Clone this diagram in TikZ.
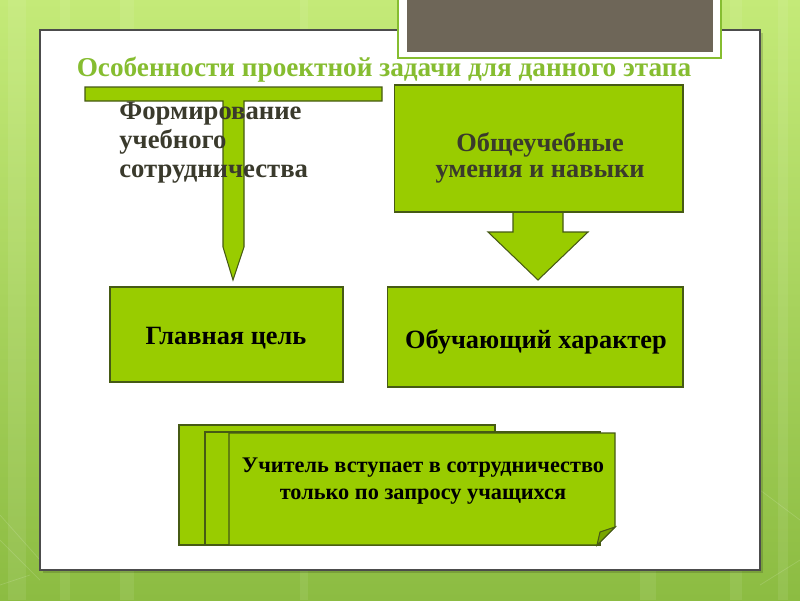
\documentclass[tikz,border=0pt]{standalone}
\usepackage{fontspec}
\setmainfont{Liberation Serif}
\definecolor{bgtop}{RGB}{196,234,120}
\definecolor{bgbot}{RGB}{140,188,66}
\definecolor{leaf}{RGB}{153,204,0}
\definecolor{leafdark}{RGB}{120,165,0}
\definecolor{edge}{RGB}{70,90,20}
\definecolor{headgreen}{RGB}{134,189,48}
\definecolor{slate}{RGB}{110,102,88}
\definecolor{inkgray}{RGB}{58,58,44}
\begin{document}
\begin{tikzpicture}[x=0.02cm, y=-0.02cm,
    block/.style={fill=leaf, draw=edge, line width=0.6pt},
    lbl/.style={font=\bfseries\fontsize{15}{17}\selectfont, text=black, align=center}]
    \useasboundingbox (0,0) rectangle (800,600);

    % 1. Nền xanh và khung trắng
    \shade[top color=bgtop, bottom color=bgbot] (0,0) rectangle (800,600);
    \foreach \xa/\w in {8/18, 60/10, 120/14, 300/8, 640/16, 730/12, 778/10}
        \fill[white, opacity=0.08] (\xa,0) rectangle (\xa+\w,600);
    \draw[white, opacity=0.15] (0,515) -- (40,560) (0,540) -- (40,580) (760,490) -- (800,520)
        (760,585) -- (800,560) (30,575) -- (0,585);
    \fill[black, opacity=0.15] (43,33) rectangle (763,573);
    \draw[fill=white, draw=gray!60!black, line width=0.6pt] (40,30) rectangle (760,570);

    % 2. Ô tối phía trên
    \draw[fill=white, draw=headgreen, line width=0.8pt] (398,-2) rectangle (721,58);
    \fill[slate] (407,-2) rectangle (713,52);

    % 3. Tiêu đề
    \node[font=\bfseries\fontsize{15.5}{18}\selectfont, text=headgreen] (title) at (384,70)
        {Особенности проектной задачи для данного этапа};

    % 4. Mũi tên chữ T và mũi tên khối
    \draw[block, miter limit=20] (85,87) -- (382,87) -- (382,101) -- (244,101) -- (244,247) -- (233,280)
        -- (223,247) -- (223,101) -- (85,101) -- cycle;
    \draw[block, miter limit=20] (513,205) -- (563,205) -- (563,232) -- (588,232) -- (538,280)
        -- (488,232) -- (513,232) -- cycle;

    % 5. Các khối chữ
    \node[block, minimum width=5.78cm, minimum height=2.54cm] (skills) at (538.5,148.5) {};
    \node[lbl, text=inkgray, font=\bfseries\fontsize{15}{14.5}\selectfont] (skillstxt)
        at (540,158) {Общеучебные\\умения и навыки};
    \node[lbl, text=inkgray, align=left, anchor=west, inner sep=0pt,
        font=\bfseries\fontsize{15.2}{16.5}\selectfont]
        (coop) at (119,143) {Формирование\\учебного\\сотрудничества};
    \node[block, minimum width=4.66cm, minimum height=1.9cm] (goal) at (226.5,334.5) {};
    \node[lbl] (goaltxt) at (226,338) {Главная цель};
    \node[block, minimum width=5.92cm, minimum height=2.0cm] (teach) at (535,337) {};
    \node[lbl] (teachtxt) at (536,342) {Обучающий характер};

    % 6. Chồng giấy phía dưới
    \draw[block] (179,425) rectangle (495,545);
    \draw[block] (205,432) rectangle (600,545);
    \draw[block] (229,433) -- (615,433) -- (615,527) -- (597,545) -- (229,545) -- cycle;
    \draw[fill=leafdark, draw=edge, line width=0.6pt] (615,527) -- (600,532) -- (597,545) -- cycle;
    \node[lbl, font=\bfseries\fontsize{12.7}{15.5}\selectfont] (note) at (423,481)
        {Учитель вступает в сотрудничество\\только по запросу учащихся};
\end{tikzpicture}
\end{document}
